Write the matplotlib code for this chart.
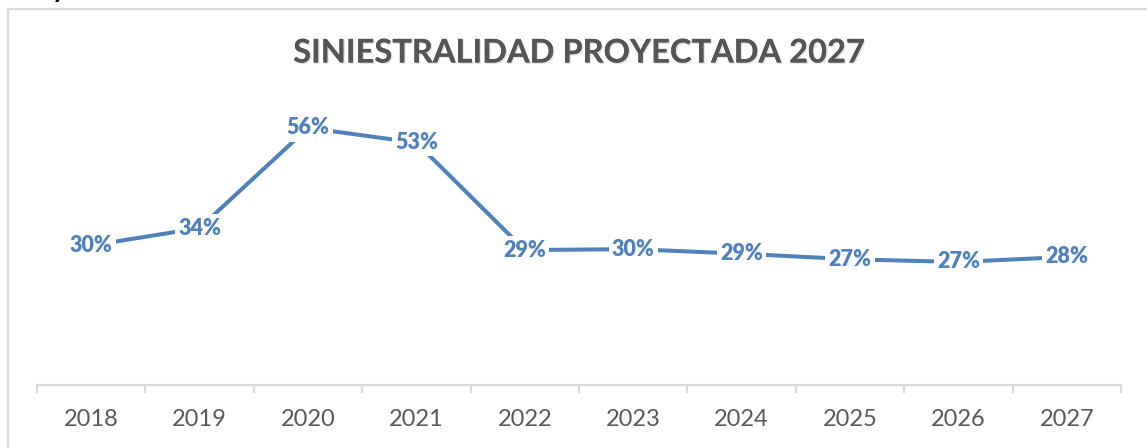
import matplotlib
matplotlib.use("Agg")
import matplotlib.pyplot as plt
from matplotlib.patches import Rectangle
import matplotlib.patheffects as pe
import numpy as np

years = ["2018", "2019", "2020", "2021", "2022", "2023", "2024", "2025", "2026", "2027"]
siniestralidad = [0.304, 0.342, 0.560, 0.528, 0.294, 0.296, 0.286, 0.274, 0.268, 0.279]
title = "SINIESTRALIDAD PROYECTADA 2027"

W, H = 1147, 448
fig = plt.figure(figsize=(W / 100, H / 100), dpi=100)
fig.patch.set_facecolor("white")

# chart border (extends beyond right/bottom edge)
fig.patches.append(Rectangle((8 / W, -0.2), 1.2, 1.2 - 9 / H, transform=fig.transFigure,
                             fill=False, edgecolor="#d9d9d9", lw=1.6, clip_on=False))
# cut-off text fragment at the top left (as in the reference)
fig.text(52 / W, 1 + 3 / H, "y", fontsize=20, fontweight="bold", color="black",
         family="Lato", va="baseline", ha="left")

left, right = 37 / W, 1121 / W
bottom = 1 - 385 / H
height = 0.6 * 459 / H
ax = fig.add_axes([left, bottom, right - left, height])

x = np.arange(len(years))
blue = "#4F81BD"
ax.plot(x, siniestralidad, color=blue, lw=2.9, solid_capstyle="butt", zorder=2)
for xi, v in zip(x, siniestralidad):
    ax.text(xi, v, f"{v:.0%}", ha="center", va="center", fontsize=15.5, fontweight="heavy",
            color=blue, family="Lato", zorder=3,
            bbox=dict(boxstyle="square,pad=0.15", fc="white", ec="none"))

ax.set_xlim(-0.5, len(years) - 0.5)
ax.set_ylim(0, 0.6)
for s in ["left", "top", "right"]:
    ax.spines[s].set_visible(False)
ax.spines["bottom"].set_color("#d9d9d9")
ax.spines["bottom"].set_linewidth(1.6)
ax.set_yticks([])
ax.set_xticks(x)
ax.set_xticklabels(years, fontsize=17, color="#595959", family="Lato")
ax.tick_params(axis="x", which="major", length=0, pad=17)
ax.set_xticks(np.arange(-0.5, len(years)), minor=True)
ax.tick_params(axis="x", which="minor", length=6, width=1.6, color="#d9d9d9")

fig.text((left + right) / 2, 1 - 53 / H, title, ha="center", va="center", fontsize=23.5,
         fontweight="bold", color="#555555", family="Lato",
         path_effects=[pe.withSimplePatchShadow(offset=(1, -1), shadow_rgbFace="#c8c8c8", alpha=0.5),
                       pe.Normal()])

fig.savefig("out.png", dpi=100, facecolor="white")
